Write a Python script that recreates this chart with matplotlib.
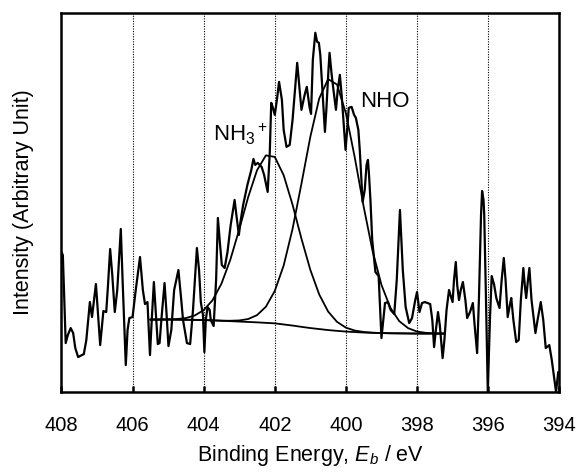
"""N 1s XPS spectrum with NH3+ / NHO component fit."""

import matplotlib

matplotlib.use("Agg")
import matplotlib.pyplot as plt

# measured spectrum (binding energy in eV, intensity in arbitrary units)
energy = [
    408.00, 407.96, 407.88, 407.82, 407.74, 407.67, 407.61, 407.53, 407.37, 407.30,
    407.20, 407.14, 407.03, 406.98, 406.91, 406.82, 406.74, 406.69, 406.63, 406.57,
    406.50, 406.43, 406.33, 406.28, 406.19, 406.14, 406.09, 406.00,
    405.91, 405.79, 405.71, 405.65, 405.58, 405.51, 405.46, 405.40, 405.35, 405.29,
    405.24, 405.19, 405.10, 405.05, 404.99, 404.91, 404.83, 404.71, 404.63, 404.58,
    404.47, 404.38, 404.30, 404.19, 404.13, 404.08, 404.02,
    403.98, 403.94, 403.89, 403.83, 403.80, 403.72, 403.65, 403.60, 403.55, 403.49,
    403.41, 403.33, 403.24, 403.13, 403.08, 403.01, 402.97, 402.89, 402.77, 402.66,
    402.60, 402.55, 402.48, 402.37, 402.30, 402.20, 402.14, 402.10, 402.06, 402.00,
    401.94, 401.88, 401.80, 401.75, 401.67, 401.58, 401.50, 401.37, 401.30, 401.25,
    401.16, 401.10, 401.02, 400.98, 400.93, 400.86, 400.81, 400.76, 400.72, 400.66,
    400.59, 400.55, 400.49, 400.46, 400.40, 400.35, 400.28, 400.23, 400.17, 400.12,
    400.08, 400.01,
    399.96, 399.92, 399.84, 399.77, 399.72, 399.65, 399.61, 399.53, 399.47, 399.42,
    399.38, 399.35, 399.31, 399.26, 399.17, 399.08, 399.00, 398.95, 398.90, 398.82,
    398.74, 398.64, 398.57, 398.48, 398.44, 398.40, 398.32, 398.22, 398.14, 398.05,
    398.00,
    397.93, 397.86, 397.78, 397.63, 397.57, 397.52, 397.47, 397.41, 397.36, 397.28,
    397.23, 397.17, 397.10, 397.06, 397.00, 396.96, 396.91, 396.87, 396.82, 396.77,
    396.71, 396.64, 396.59, 396.51, 396.43, 396.38, 396.31, 396.26, 396.20, 396.17,
    396.13, 396.11, 396.06, 396.01,
    395.95, 395.90, 395.83, 395.77, 395.68, 395.62, 395.56, 395.51, 395.45, 395.39,
    395.35, 395.29, 395.21, 395.14, 395.08, 395.01, 394.97, 394.93, 394.88, 394.84,
    394.78, 394.67, 394.61, 394.52, 394.45, 394.38, 394.28, 394.21, 394.09, 394.03,
]
intensity = [
    140, 137, 49, 57, 64, 59, 44, 35, 38, 52,
    90, 75, 108, 82, 47, 81, 80, 107, 143, 117,
    80, 102, 163, 112, 27, 62, 74, 75,
    102, 135, 102, 88, 90, 37, 72, 110, 82, 48,
    49, 72, 109, 82, 46, 62, 102, 122, 92, 72,
    49, 48, 82, 144, 122, 90, 77,
    40, 72, 85, 82, 72, 66, 112, 174, 152, 127,
    124, 140, 167, 192, 177, 157, 169, 187, 207, 222,
    233, 227, 229, 225, 217, 200, 240, 289, 285, 277,
    292, 310, 292, 262, 245, 247, 272, 329, 302, 282,
    297, 305, 284, 278, 332, 359, 350, 349, 337, 302,
    260, 282, 322, 339, 317, 302, 282, 302, 317, 297,
    277, 242,
    264, 284, 285, 277, 274, 262, 242, 190, 202, 227,
    232, 217, 192, 152, 120, 116, 54, 72, 89, 90,
    82, 78, 112, 182, 152, 122, 85, 69, 74, 92,
    100,
    80, 89, 90, 88, 72, 45, 62, 80, 67, 34,
    52, 82, 102, 97, 90, 112, 130, 107, 92, 102,
    110, 92, 74, 80, 89, 67, 39, 92, 177, 201,
    192, 177, 92, 0,
    72, 116, 107, 94, 84, 112, 134, 112, 75, 87,
    94, 72, 50, 52, 92, 124, 107, 94, 112, 124,
    92, 59, 72, 90, 72, 44, 47, 32, 0, 20,
]

# fitted components and background
fit_energy = [
    405.5, 405.25, 405.0, 404.75, 404.5, 404.25, 404.0, 403.75, 403.5, 403.25,
    403.0, 402.75, 402.5, 402.25, 402.0, 401.75, 401.5, 401.25, 401.0, 400.75,
    400.5, 400.25, 400.0, 399.75, 399.5, 399.25, 399.0, 398.75, 398.5, 398.25,
    398.0, 397.75, 397.5, 397.25,
]
background = [
    72.5, 72.5, 72.5, 72.4, 72.3, 72.2, 72.0, 71.7, 71.3, 70.9,
    70.5, 70.1, 69.7, 69.2, 68.7, 67.6, 66.5, 65.2, 64.0, 63.0,
    62.0, 61.2, 60.5, 60.0, 59.5, 59.2, 59.0, 58.8, 58.7, 58.6,
    58.5, 58.5, 58.5, 58.5,
]
nh3_component = [
    72.5, 72.5, 72.7, 73.0, 74.0, 76.6, 81.9, 91.8, 108.3, 132.3,
    162.5, 194.6, 221.6, 236.5, 235.0, 216.7, 187.2, 153.3, 122.1, 97.5,
    80.5, 70.2, 64.4, 61.5, 60.1, 59.4, 59.0, 58.8, 58.7, 58.6,
    58.5, 58.5, 58.5, 58.5,
]
nho_component = [
    72.5, 72.5, 72.5, 72.4, 72.3, 72.2, 72.0, 71.7, 71.4, 71.3,
    71.6, 73.0, 76.9, 85.3, 101.1, 126.5, 163.1, 208.3, 255.1, 293.4,
    312.7, 307.3, 278.5, 234.3, 185.2, 141.0, 107.1, 84.3, 70.9, 63.9,
    60.5, 59.2, 58.7, 58.5,
]

grid_energies = [406, 404, 402, 400, 398, 396]
tick_energies = [408, 406, 404, 402, 400, 398, 396, 394]


def main() -> None:
    plt.rcParams["font.family"] = ["Liberation Sans", "DejaVu Sans"]
    plt.rcParams["mathtext.fontset"] = "custom"
    plt.rcParams["mathtext.rm"] = "Liberation Sans"
    plt.rcParams["mathtext.it"] = "Liberation Sans:italic"

    fig = plt.figure(figsize=(5.85, 4.73), dpi=100)
    ax = fig.add_axes([0.105, 0.171, 0.851, 0.802])

    for e in grid_energies:
        ax.axvline(e, color="black", linestyle=(0, (1, 1.3)), linewidth=0.8, zorder=1)

    line_kw = dict(color="black", solid_joinstyle="round", solid_capstyle="round")
    ax.plot(energy, intensity, linewidth=1.6, zorder=3, **line_kw)
    ax.plot(fit_energy, background, linewidth=1.3, zorder=2, **line_kw)
    ax.plot(fit_energy, nh3_component, linewidth=1.3, zorder=2, **line_kw)
    ax.plot(fit_energy, nho_component, linewidth=1.3, zorder=2, **line_kw)

    ax.text(403.75, 250, r"NH$_3$$^+$", fontsize=16, ha="left", va="baseline")
    ax.text(399.59, 285, "NHO", fontsize=16, ha="left", va="baseline")

    ax.set_xlim(408, 394)
    ax.set_ylim(0, 379)
    ax.set_xticks(tick_energies)
    ax.set_xticklabels([str(t) for t in tick_energies])
    ax.set_yticks([])
    ax.tick_params(axis="x", direction="in", length=4, width=1.8, labelsize=14.5, pad=17)
    for spine in ax.spines.values():
        spine.set_linewidth(1.8)

    ax.set_xlabel(r"Binding Energy, $E_b$ / eV", fontsize=15.5, labelpad=6)
    ax.set_ylabel("Intensity (Arbitrary Unit)", fontsize=15.5, labelpad=20)

    fig.savefig("out.png", dpi=100, facecolor="white")
    plt.close(fig)


if __name__ == "__main__":
    main()
